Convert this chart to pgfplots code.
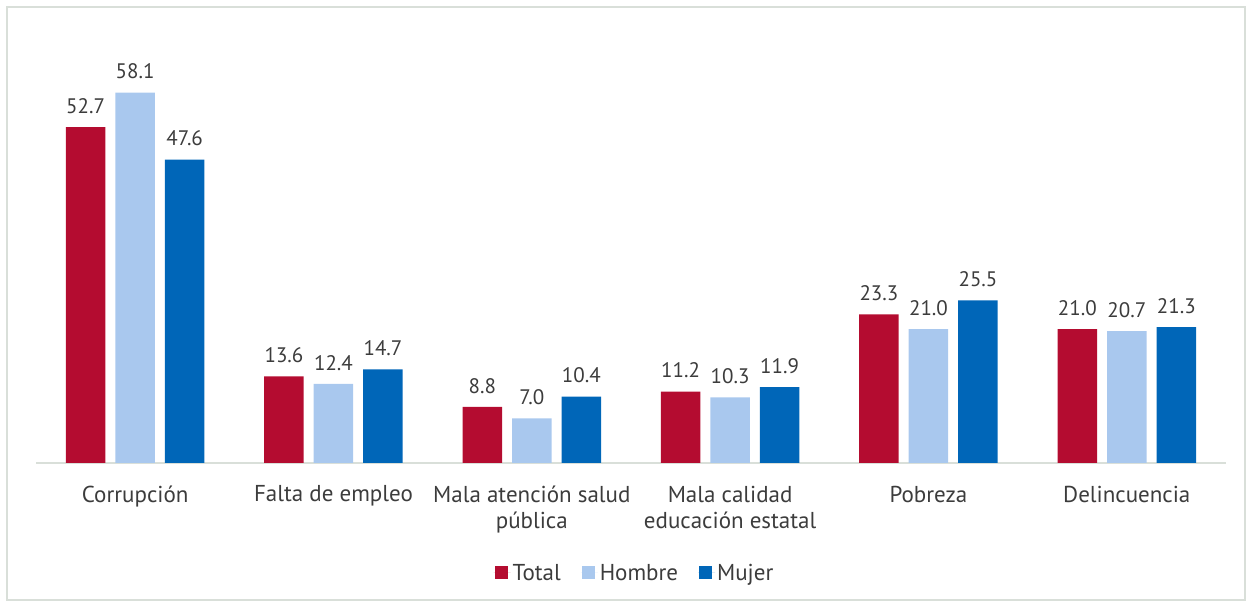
\documentclass[border=0pt]{standalone}
\usepackage{pgfplots}
\pgfplotsset{compat=1.18}
\usepackage{fontspec}
\setmainfont{PT Sans}
\definecolor{cTotal}{HTML}{B40C30}
\definecolor{cHombre}{HTML}{A9C8EE}
\definecolor{cMujer}{HTML}{0066B8}
\definecolor{txt}{HTML}{3C3C3C}
\definecolor{axl}{HTML}{D9DFD9}
\begin{document}
\begin{tikzpicture}[x=1bp,y=1bp]
\useasboundingbox (0,0) rectangle (1252,607);
\draw[color=axl, line width=1.2bp] (7,7) rectangle (1245,600);
\begin{axis}[
  at={(36bp,144bp)}, anchor=south west,
  scale only axis, width=1190bp, height=414.4bp,
  xmin=-0.5, xmax=5.5, ymin=0, ymax=65,
  ybar=10bp, bar width=39.5bp,
  axis x line*=bottom, hide y axis,
  x axis line style={color=axl, line width=2bp, -},
  xtick=data, xtick style={draw=none},
  xticklabels={Corrupción, Falta de empleo, Mala atención salud\\pública, Mala calidad\\educación estatal, Pobreza, Delincuencia},
  xticklabel style={align=center, font=\fontsize{23bp}{26.5bp}\selectfont, text=txt, anchor=north, yshift=-15bp},
  nodes near coords, every node near coord/.append style={font=\fontsize{21bp}{23bp}\selectfont, text=txt, yshift=10bp},
  nodes near coords={\pgfmathprintnumber[fixed, fixed zerofill, precision=1, assume math mode=true]{\pgfplotspointmeta}},
  legend style={at={(0.503,-0.265)}, anchor=center, draw=none, fill=none, font=\fontsize{23bp}{25bp}\selectfont, text=txt, legend columns=-1, /tikz/every even column/.append style={column sep=18bp}},
  legend image code/.code={\fill[#1] (0bp,-6.5bp) rectangle (13bp,6.5bp); \path (-1bp,0) -- (16bp,0);},
]
\addplot[fill=cTotal, draw=none] coordinates {(0,52.7) (1,13.6) (2,8.8) (3,11.2) (4,23.3) (5,21.0)};
\addplot[fill=cHombre, draw=none] coordinates {(0,58.1) (1,12.4) (2,7.0) (3,10.3) (4,21.0) (5,20.7)};
\addplot[fill=cMujer, draw=none] coordinates {(0,47.6) (1,14.7) (2,10.4) (3,11.9) (4,25.5) (5,21.3)};
\legend{Total, Hombre, Mujer}
\end{axis}
\end{tikzpicture}
\end{document}
